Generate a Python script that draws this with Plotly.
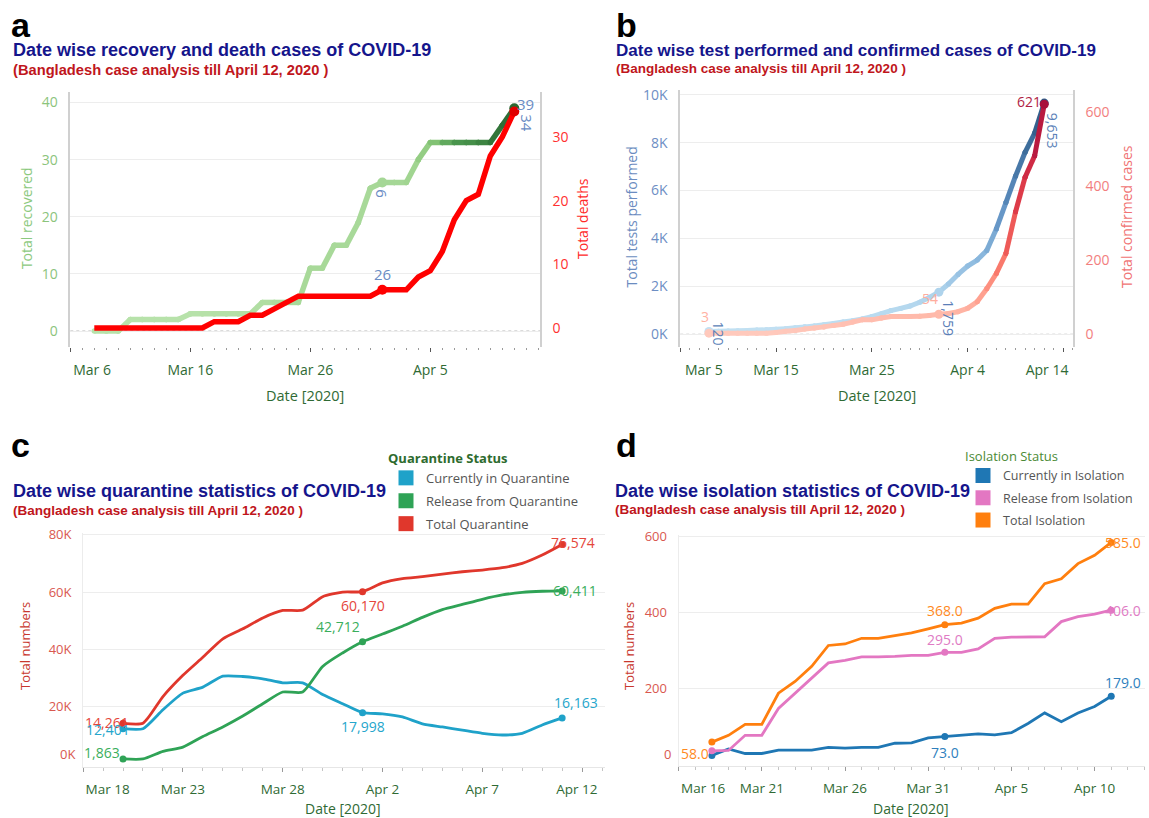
import plotly.graph_objects as go
import pandas as pd

# ---------------- DATA ----------------
# Panel a / b : Mar 8 .. Apr 12, 2020
dates_ab = pd.date_range("2020-03-08", "2020-04-12", freq="D")
recovered = [0, 0, 0, 2, 2, 2, 2, 2, 3, 3, 3, 3, 3, 3, 5, 5, 5, 5, 11, 11, 15, 15, 19, 25,
             26, 26, 26, 30, 33, 33, 33, 33, 33, 33, 36, 39]
deaths = [0, 0, 0, 0, 0, 0, 0, 0, 0, 0, 1, 1, 1, 2, 2, 3, 4, 5, 5, 5, 5, 5, 5, 5,
          6, 6, 6, 8, 9, 12, 17, 20, 21, 27, 30, 34]
tests = [120, 130, 140, 150, 160, 175, 190, 210, 235, 270, 310, 350, 400, 450, 510, 570, 640, 740,
         860, 990, 1080, 1180, 1340, 1540,
         1759, 2100, 2500, 2850, 3100, 3500, 4400, 5500, 6600, 7600, 8400, 9653]
confirmed = [3, 3, 3, 3, 3, 3, 3, 5, 8, 10, 14, 17, 20, 24, 27, 33, 39, 39, 44, 48, 48, 48, 49, 51,
             54, 56, 61, 70, 88, 123, 164, 218, 330, 424, 482, 621]

# Panel c : Mar 20 .. Apr 11, 2020
dates_c = pd.date_range("2020-03-20", "2020-04-11", freq="D")
q_total = [14261, 14300, 23600, 31000, 37300, 43700, 47200, 51000, 53600, 53700, 58400, 60000,
           60170, 63200, 64700, 65400, 66300, 67100, 67700, 68500, 70000, 72900, 76574]
q_released = [1863, 1863, 4500, 6000, 9700, 13000, 16800, 21100, 25200, 25200, 34100, 38800,
              42712, 45400, 48100, 51200, 53900, 55700, 57500, 59000, 59900, 60300, 60411]
q_current = [12401, 12400, 19000, 24800, 26900, 30700, 30600, 29800, 28400, 28400, 24300, 21100,
             17998, 17600, 16500, 14100, 13000, 11900, 10800, 10200, 10800, 13700, 16163]
q_names = ["Currently in Quarantine", "Release from Quarantine", "Total Quarantine"]

# Panel d : Mar 18 .. Apr 11, 2020
dates_d = pd.date_range("2020-03-18", "2020-04-11", freq="D")
iso_total = [58, 76, 105, 105, 187, 218, 258, 313, 317, 332, 332, 340, 346, 357,
             368, 372, 385, 411, 422, 422, 476, 489, 529, 551, 585]
iso_released = [35, 36, 76, 76, 147, 187, 227, 267, 274, 283, 283, 284, 287, 287,
                295, 295, 304, 332, 335, 335, 336, 376, 389, 396, 406]
iso_current = [23, 40, 28, 28, 37, 37, 37, 44, 42, 44, 44, 55, 56, 69,
               73, 76, 80, 77, 83, 107, 135, 112, 135, 152, 179]
iso_names = ["Currently in Isolation", "Release from Isolation", "Total Isolation"]

y_ticks_b = [0, 2000, 4000, 6000, 8000, 10000]
y_ticks_c = [20000, 40000, 60000, 80000]
y_ticks_d = [200, 400, 600]

# ---------------- STYLE / LAYOUT CONSTANTS ----------------
W, H = 1149, 818
DAY = 86400000
TICKF = "Open Sans, Noto Sans, sans-serif"
ARIAL = "Liberation Sans, Arial, sans-serif"
XLAB = "#2f6a34"
NAVY = "#15158c"
SUBRED = "#c0161c"
NBSP = "\u00a0"


def fx(p):
    return p / W


def fy(p):
    return 1 - p / H


def xr(start, left_px, right_px, px_per_day):
    s = pd.Timestamp(start)
    e = s + pd.Timedelta(days=(right_px - left_px) / px_per_day)
    return [s, e]


def hex2rgb(h):
    h = h.lstrip("#")
    return tuple(int(h[i:i + 2], 16) for i in (0, 2, 4))


def ramp(stops, t):
    t = max(0.0, min(1.0, t))
    for (t0, c0), (t1, c1) in zip(stops, stops[1:]):
        if t <= t1:
            u = (t - t0) / (t1 - t0) if t1 > t0 else 0
            a, b = hex2rgb(c0), hex2rgb(c1)
            return "rgb(%d,%d,%d)" % tuple(round(a[k] + (b[k] - a[k]) * u) for k in range(3))
    return stops[-1][1]


GREEN = [(0, "#b7e2aa"), (0.2, "#a3d693"), (0.3, "#84c476"), (0.5, "#4d9a50"), (0.8, "#357a3c"), (1, "#2b6733")]
BLUE = [(0, "#c3e1f3"), (0.18, "#aed3ec"), (0.35, "#88b6dc"), (0.55, "#5f90c2"), (0.8, "#40709f"), (1, "#2d5985")]
RED = [(0, "#ffcabd"), (0.1, "#ffb6a6"), (0.2, "#ff9887"), (0.35, "#f76d62"), (0.55, "#e3434b"),
       (0.78, "#c92443"), (1, "#a8103c")]

fig = go.Figure()


def add_gradient(xs, ys, cvals, cmax, stops, xa, ya, width):
    for i in range(len(xs) - 1):
        col = ramp(stops, (cvals[i] + cvals[i + 1]) / 2 / cmax)
        fig.add_trace(go.Scatter(
            x=[xs[i], xs[i + 1]], y=[ys[i], ys[i + 1]], mode="lines+markers",
            line=dict(color=col, width=width),
            marker=dict(size=width, color=col, line=dict(width=0)),
            xaxis=xa, yaxis=ya, showlegend=False, hoverinfo="skip"))


def add_markers(xs, ys, idx, colors, xa, ya, size):
    fig.add_trace(go.Scatter(
        x=[xs[i] for i in idx], y=[ys[i] for i in idx], mode="markers",
        marker=dict(size=size, color=colors, line=dict(width=0)),
        xaxis=xa, yaxis=ya, showlegend=False, hoverinfo="skip"))


# ---- panel a ----
i_apr1 = list(dates_ab).index(pd.Timestamp("2020-04-01"))
last = len(dates_ab) - 1
add_gradient(dates_ab, recovered, deaths, max(deaths), GREEN, "x", "y", 5.5)
add_markers(dates_ab, recovered, [i_apr1, last],
            [ramp(GREEN, deaths[i_apr1] / max(deaths)), ramp(GREEN, 1)], "x", "y", 10)
fig.add_trace(go.Scatter(x=dates_ab, y=deaths, mode="lines", line=dict(color="#ff0000", width=5.5),
                         xaxis="x", yaxis="y2", showlegend=False, hoverinfo="skip"))
add_markers(dates_ab, deaths, [i_apr1, last], ["#ff0000", "#e00000"], "x", "y2", 10)

# ---- panel b ----
add_gradient(dates_ab, tests, tests, max(tests), BLUE, "x2", "y3", 5)
add_markers(dates_ab, tests, [0, i_apr1, last],
            [ramp(BLUE, tests[i] / max(tests)) for i in (0, i_apr1, last)], "x2", "y3", 9)
add_gradient(dates_ab, confirmed, confirmed, max(confirmed), RED, "x2", "y4", 5)
add_markers(dates_ab, confirmed, [0, i_apr1, last],
            [ramp(RED, confirmed[i] / max(confirmed)) for i in (0, i_apr1, last)], "x2", "y4", 9)

# ---- panel c ----
C_COLS = ["#1fa2c9", "#2fa356", "#e0372c"]
ci1 = list(dates_c).index(pd.Timestamp("2020-04-01"))
for vals, col in zip([q_current, q_released, q_total], C_COLS):
    fig.add_trace(go.Scatter(x=dates_c, y=vals, mode="lines",
                             line=dict(color=col, width=2.8, shape="spline", smoothing=0.6),
                             xaxis="x3", yaxis="y5", showlegend=False, hoverinfo="skip"))
    add_markers(dates_c, vals, [0, ci1, len(vals) - 1], col, "x3", "y5", 7)
for name, col in zip(q_names, C_COLS):
    fig.add_trace(go.Scatter(x=[None], y=[None], mode="markers", name=name,
                             marker=dict(symbol="square", size=15, color=col),
                             xaxis="x3", yaxis="y5", legend="legend", legendgroup=name))

# ---- panel d ----
D_COLS = ["#1f77b4", "#e377c2", "#ff7f0e"]
di1 = list(dates_d).index(pd.Timestamp("2020-04-01"))
for vals, col in zip([iso_current, iso_released, iso_total], D_COLS):
    fig.add_trace(go.Scatter(x=dates_d, y=vals, mode="lines", line=dict(color=col, width=2.8),
                             xaxis="x4", yaxis="y6", showlegend=False, hoverinfo="skip"))
    add_markers(dates_d, vals, [0, di1, len(vals) - 1], col, "x4", "y6", 7)
for name, col in zip(iso_names, D_COLS):
    fig.add_trace(go.Scatter(x=[None], y=[None], mode="markers", name=name,
                             marker=dict(symbol="square", size=15, color=col),
                             xaxis="x4", yaxis="y6", legend="legend2", legendgroup=name))

# ---------------- annotations ----------------
ann = []


def txt(text, x, y, xref, yref, color, size=14, xanchor="center", yanchor="middle",
        xshift=0, yshift=0, angle=0, family=TICKF):
    ann.append(dict(text=text, x=x, y=y, xref=xref, yref=yref, showarrow=False,
                    xanchor=xanchor, yanchor=yanchor, xshift=xshift, yshift=yshift,
                    textangle=angle, font=dict(family=family, size=size, color=color)))


def ptxt(text, px_, py_, color, size, xanchor="left", angle=0, family=ARIAL):
    txt(text, fx(px_), fy(py_), "paper", "paper", color, size, xanchor=xanchor, angle=angle, family=family)


# panel letters, titles, subtitles
ptxt("<b>a</b>", 9, 25, "black", 34)
ptxt("<b>b</b>", 614, 25, "black", 34)
ptxt("<b>c</b>", 9, 445, "black", 34)
ptxt("<b>d</b>", 614, 445, "black", 34)
ptxt("<b>Date wise recovery and death cases of COVID-19</b>", 11, 50, NAVY, 18)
ptxt("<b>(Bangladesh case analysis till April 12, 2020 )</b>", 11, 70.5, SUBRED, 14.7)
ptxt("<b>Date wise test performed and confirmed cases of COVID-19</b>", 614, 50.5, NAVY, 17)
ptxt("<b>(Bangladesh case analysis till April 12, 2020 )</b>", 614, 68.5, SUBRED, 13.5)
ptxt("<b>Date wise quarantine statistics of COVID-19</b>", 11, 491, NAVY, 18)
ptxt("<b>(Bangladesh case analysis till April 12, 2020 )</b>", 11, 510, SUBRED, 13.5)
ptxt("<b>Date wise isolation statistics of COVID-19</b>", 613, 491, NAVY, 18)
ptxt("<b>(Bangladesh case analysis till April 12, 2020 )</b>", 613, 509.5, SUBRED, 13.5)

# axis titles
ptxt("Total recovered", 26.6, 218.5, "#8cc97e", 14, "center", -90, TICKF)
ptxt("Total deaths", 582, 219, "#ff2a2a", 14, "center", -90, TICKF)
ptxt("Total tests performed", 631, 217.5, "#6b8cc0", 14, "center", -90, TICKF)
ptxt("Total confirmed cases", 1126, 217, "#f07373", 14, "center", -90, TICKF)
ptxt("Total numbers", 25, 646, "#c8372d", 13, "center", -90, TICKF)
ptxt("Total numbers", 629, 646, "#c8372d", 13, "center", -90, TICKF)
ptxt("Date [2020]", 305, 395, XLAB, 14.5, "center", 0, TICKF)
ptxt("Date [2020]", 876.5, 395, XLAB, 14.5, "center", 0, TICKF)
ptxt("Date [2020]", 343, 808, XLAB, 14, "center", 0, TICKF)
ptxt("Date [2020]", 911, 808, XLAB, 14, "center", 0, TICKF)

# bottom tick labels of c and d, lifted inside the plot like the original
txt("0K", 0, 0, "x3 domain", "y5", "#d9584f", 13, xanchor="right", xshift=-6, yshift=10)
txt("0", 0, 0, "x4 domain", "y6", "#d9584f", 13, xanchor="right", xshift=-6, yshift=10)

# value labels, panel a
LBL = "#6a8cc4"
txt(str(recovered[last]), dates_ab[last], recovered[last], "x", "y", LBL, 15, xanchor="left", xshift=1, yshift=4)
txt(str(deaths[last]), dates_ab[last], deaths[last], "x", "y2", LBL, 15, xshift=12, yshift=-12, angle=90)
txt(str(recovered[i_apr1]), dates_ab[i_apr1], deaths[i_apr1], "x", "y2", LBL, 15, yshift=16)
txt(str(deaths[i_apr1]), dates_ab[i_apr1], recovered[i_apr1], "x", "y", LBL, 15, yshift=-11, angle=90)

# value labels, panel b
txt(str(confirmed[0]), dates_ab[0], confirmed[0], "x2", "y4", "#ffb2a3", 14, xshift=-4, yshift=17)
txt(f"{tests[0]:,}", dates_ab[0], tests[0], "x2", "y3", "#5b7fb8", 14, xshift=10, yshift=-2, angle=90)
txt(str(confirmed[i_apr1]), dates_ab[i_apr1], confirmed[i_apr1], "x2", "y4", "#ffad9e", 14, xshift=-9, yshift=16)
txt(f"{tests[i_apr1]:,}", dates_ab[i_apr1], tests[i_apr1], "x2", "y3", "#5b7fb8", 14, xshift=10, yshift=-26, angle=90)
txt(str(confirmed[last]), dates_ab[last], confirmed[last], "x2", "y4", "#b01e44", 14, xanchor="right", xshift=-1, yshift=3)
txt(f"{tests[last]:,}", dates_ab[last], tests[last], "x2", "y3", "#5b7fb8", 14, xshift=9, yshift=-28, angle=90)

# value labels, panel c
cl = len(dates_c) - 1
LC = ["#25a6cc", "#3aae5c", "#e5463b"]
txt(f"{q_total[0]:,}", dates_c[0], q_total[0], "x3", "y5", LC[2], 14, xanchor="right", xshift=8, yshift=1)
txt(f"{q_current[0]:,}", dates_c[0], q_current[0], "x3", "y5", LC[0], 14, xanchor="right", xshift=9, yshift=-1)
txt(f"{q_released[0]:,}", dates_c[0], q_released[0], "x3", "y5", LC[1], 14, xanchor="right", xshift=-1, yshift=6)
txt(f"{q_total[ci1]:,}", dates_c[ci1], q_total[ci1], "x3", "y5", LC[2], 14, yshift=-14)
txt(f"{q_released[ci1]:,}", dates_c[ci1], q_released[ci1], "x3", "y5", LC[1], 14, xanchor="right", xshift=-1, yshift=15)
txt(f"{q_current[ci1]:,}", dates_c[ci1], q_current[ci1], "x3", "y5", LC[0], 14, yshift=-14)
txt(f"{q_total[cl]:,}", dates_c[cl], q_total[cl], "x3", "y5", LC[2], 14, xanchor="left", xshift=-13, yshift=2)
txt(f"{q_released[cl]:,}", dates_c[cl], q_released[cl], "x3", "y5", LC[1], 14, xanchor="left", xshift=-11, yshift=0)
txt(f"{q_current[cl]:,}", dates_c[cl], q_current[cl], "x3", "y5", LC[0], 14, xanchor="left", xshift=-10, yshift=15)

# value labels, panel d
dl = len(dates_d) - 1
LD = ["#2f7fbd", "#e07bc4", "#ff8a1e"]
txt(f"{iso_total[0]:.1f}", dates_d[0], iso_total[0], "x4", "y6", LD[2], 14, xanchor="right", xshift=-1, yshift=-11)
txt(f"{iso_total[di1]:.1f}", dates_d[di1], iso_total[di1], "x4", "y6", LD[2], 14, yshift=14)
txt(f"{iso_released[di1]:.1f}", dates_d[di1], iso_released[di1], "x4", "y6", LD[1], 14, yshift=13)
txt(f"{iso_current[di1]:.1f}", dates_d[di1], iso_current[di1], "x4", "y6", LD[0], 14, yshift=-16)
txt(f"{iso_total[dl]:.1f}", dates_d[dl], iso_total[dl], "x4", "y6", LD[2], 14, xanchor="left", xshift=-8)
txt(f"{iso_released[dl]:.1f}", dates_d[dl], iso_released[dl], "x4", "y6", LD[1], 14, xanchor="left", xshift=-8)
txt(f"{iso_current[dl]:.1f}", dates_d[dl], iso_current[dl], "x4", "y6", LD[0], 14, xanchor="left", xshift=-8, yshift=14)

# dotted zero reference lines (panels a and b)
shapes = [
    dict(type="line", xref="x domain", x0=0, x1=1, yref="y", y0=0, y1=0, layer="below",
         line=dict(color="#b8b8b8", width=1.2, dash="dot")),
    dict(type="line", xref="x2 domain", x0=0, x1=1, yref="y3", y0=0, y1=0, layer="below",
         line=dict(color="#b8b8b8", width=1.2, dash="dot")),
]


def xaxis_cfg(dom, rng, step_days, anchor, fsize, line, pad_first, pad_last):
    ticks = list(pd.date_range(rng[0], rng[1], freq=f"{step_days}D"))
    labels = [f"{t:%b} {t.day}" for t in ticks]
    # the first (and sometimes last) label is pushed inside the axis, as in the original
    labels[0] = NBSP * pad_first + labels[0]
    labels[-1] = labels[-1] + NBSP * pad_last
    return dict(domain=dom, range=[r.strftime("%Y-%m-%d %H:%M:%S") for r in rng], anchor=anchor,
                type="date", automargin=False,
                tickmode="array", tickvals=ticks, ticktext=labels,
                ticks="outside", ticklen=4, tickwidth=1.3, tickcolor="#9a9a9a" if line else "#555",
                minor=dict(ticks="outside", ticklen=2 if not line else 3, tickwidth=1.3, dtick=DAY,
                           tick0=rng[0].strftime("%Y-%m-%d"),
                           tickcolor="#c4c4c4" if line else "#9a9a9a", showgrid=False),
                showgrid=False, zeroline=False, showline=line, linecolor="#e6e6e6", linewidth=1,
                tickfont=dict(family=TICKF, size=fsize, color=XLAB), ticklabelstandoff=6,
                fixedrange=True)


def yaxis_cfg(dom, rng, vals, text, color, anchor, side="left", grid=True, size=14,
              overlay=None, linecolor="#d0d0d0", lw=1.5):
    d = dict(range=rng, anchor=anchor, side=side, tickmode="array", tickvals=vals,
             ticktext=text, showgrid=grid, gridcolor="#ededed", gridwidth=1, zeroline=False,
             showline=True, linecolor=linecolor, linewidth=lw, ticks="", automargin=False,
             tickfont=dict(family=TICKF, size=size, color=color), ticklabelstandoff=8,
             fixedrange=True)
    if overlay:
        d["overlaying"] = overlay
    else:
        d["domain"] = dom
    return d


fig.update_layout(
    width=W, height=H, autosize=False,
    margin=dict(l=0, r=0, t=0, b=0, pad=0, autoexpand=False),
    paper_bgcolor="white", plot_bgcolor="white",
    hovermode=False,
    xaxis=xaxis_cfg([fx(70.3), fx(540)], xr("2020-03-06", 70.3, 540, 12.0), 10, "y", 14, False, 12, 0),
    yaxis=yaxis_cfg([fy(347), fy(91.7)], [-2.8, 41.9], [0, 10, 20, 30, 40], None, "#8cc47c", "x"),
    yaxis2=yaxis_cfg(None, [-2.98, 37.1], [0, 10, 20, 30], None, "#ff3030", "x", side="right",
                     grid=False, overlay="y"),
    xaxis2=xaxis_cfg([fx(680.2), fx(1073)], xr("2020-03-05", 680.2, 1073, 9.58), 10, "y3", 14, False, 13, 9),
    yaxis3=yaxis_cfg([fy(346.7), fy(90)], [-518, 10200], y_ticks_b,
                     [f"{v // 1000}K" for v in y_ticks_b], "#6d8ec4", "x2"),
    yaxis4=yaxis_cfg(None, [-33.5, 659.4], [0, 200, 400, 600], None, "#f27e7e", "x2", side="right",
                     grid=False, overlay="y3"),
    xaxis3=xaxis_cfg([fx(83.1), fx(605)], xr("2020-03-18", 83.1, 605, 19.96), 5, "y5", 13.5, True, 14, 3),
    yaxis5=yaxis_cfg([fy(766.7), fy(533)], [-840, 80600], y_ticks_c,
                     [f"{v // 1000}K" for v in y_ticks_c], "#d9584f", "x3", size=13,
                     linecolor="#ececec", lw=1),
    xaxis4=xaxis_cfg([fx(678.6), fx(1145)], xr("2020-03-16", 678.6, 1145, 16.64), 5, "y6", 13.5, True, 14, 0),
    yaxis6=yaxis_cfg([fy(766), fy(535)], [-5, 604.5], y_ticks_d, None, "#d9584f", "x4", size=13,
                     linecolor="#ececec", lw=1),
    legend=dict(title=dict(text="<b>Quarantine Status</b>", font=dict(family=TICKF, size=13, color="#2e6b2e")),
                xref="container", yref="container",
                x=fx(386), y=fy(446), xanchor="left", yanchor="top", bgcolor="rgba(0,0,0,0)",
                font=dict(family=TICKF, size=13, color="#555555"), tracegroupgap=3, itemclick=False),
    legend2=dict(title=dict(text="Isolation Status", font=dict(family=TICKF, size=13, color="#4b8a34")),
                 xref="container", yref="container",
                 x=fx(963), y=fy(444), xanchor="left", yanchor="top", bgcolor="rgba(0,0,0,0)",
                 font=dict(family=TICKF, size=12.5, color="#555555"), tracegroupgap=3, itemclick=False),
    annotations=ann,
    shapes=shapes,
)

fig.write_html("out.html", config={"displayModeBar": False},
               post_script="document.body.style.margin='0px';document.body.style.overflow='hidden';")
